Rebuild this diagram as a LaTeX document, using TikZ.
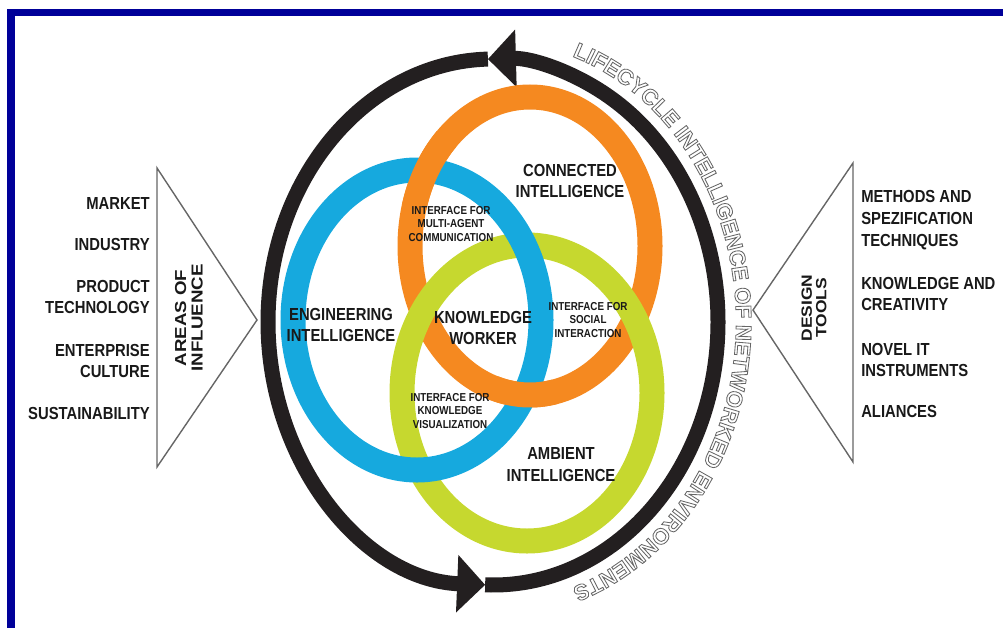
\documentclass[tikz,border=0pt]{standalone}
\usepackage{fontspec}
\setmainfont{Liberation Sans}
\usetikzlibrary{arrows.meta}
\usetikzlibrary{decorations.text}

\definecolor{ringblue}{RGB}{22,169,222}
\definecolor{ringorange}{RGB}{245,137,32}
\definecolor{ringgreen}{RGB}{198,216,47}
\definecolor{cyclegray}{RGB}{35,31,32}
\definecolor{framenavy}{RGB}{0,0,153}

\newcommand{\bigfont}{\fontsize{12.4}{15.6}\selectfont\bfseries}
\newcommand{\smallfont}{\fontsize{8.2}{9.9}\selectfont\bfseries}
% hollow letters: stroke only, no fill
\newcommand{\ringchar}[1]{{\fontsize{15.7}{15.7}\selectfont\bfseries\color{black!60}%
  \special{pdf:literal direct 1 Tr 0.6 w}#1\special{pdf:literal direct 0 Tr}}}

\tikzset{
  ring/.style={line width=6.25mm},
  lbl/.style={font=\bigfont, align=center, xscale=.85, inner sep=0pt, text=black!90},
  iface/.style={font=\smallfont, align=center, xscale=.85, text=black!90},
  side/.style={align=center, rotate=90, yscale=.85, text=black!90},
  wedge/.style={draw=black!60, line width=.35mm},
}

\begin{document}
\begin{tikzpicture}[x=0.25mm, y=-0.25mm]
    \useasboundingbox (0,0) rectangle (1003,628);

    % frame (only top and left edges)
    \fill[framenavy] (7,9) rectangle (1003,16);
    \fill[framenavy] (7,9) rectangle (15,628);

    % lifecycle ring, two halves each ending in a head
    \draw[cyclegray, line width=3.75mm, -{Triangle[length=7mm, width=14mm]}]
        (493,322) ++(92:225 and 263) arc[start angle=92, end angle=-91.3, x radius=225, y radius=263];
    \draw[cyclegray, line width=3.75mm, -{Triangle[length=7mm, width=14mm]}]
        (493,322) ++(268.7:225 and 263) arc[start angle=268.7, end angle=92, x radius=225, y radius=263];

    \path[decorate, decoration={text effects along path,
        text={LIFECYCLE INTELLIGENCE OF NETWORKED ENVIRONMENTS},
        text effects/.cd, text along path, character command=\ringchar}]
        (493,322) ++(-71:243 and 281) arc[start angle=-71, end angle=85, x radius=243, y radius=281];

    % the three rings
    \draw[ringorange, ring] (530,246) ellipse [x radius=120, y radius=149];
    \draw[ringgreen, ring] (527,393) ellipse [x radius=125, y radius=148];
    \draw[ringblue, ring] (417,320) ellipse [x radius=124, y radius=150];
    % orange goes over blue at both crossings
    \draw[ringorange, ring] (530,246) ++(195:120 and 149) arc[start angle=195, end angle=226, x radius=120, y radius=149];
    \draw[ringorange, ring] (530,246) ++(78:120 and 149) arc[start angle=78, end angle=108, x radius=120, y radius=149];

    \node[lbl] (connected) at (570,181) {CONNECTED\\INTELLIGENCE};
    \node[lbl] (engineering) at (341,325) {ENGINEERING\\INTELLIGENCE};
    \node[lbl] (worker) at (483,328) {KNOWLEDGE\\WORKER};
    \node[lbl] (ambient) at (561,465) {AMBIENT\\INTELLIGENCE};
    \node[iface] (multiagent) at (451,224) {INTERFACE FOR\\MULTI-AGENT\\COMMUNICATION};
    \node[iface] (social) at (588,320) {INTERFACE FOR\\SOCIAL\\INTERACTION};
    \node[iface] (visual) at (450,411) {INTERFACE FOR\\KNOWLEDGE\\VISUALIZATION};

    % areas of influence
    \draw[wedge] (157,168) -- (257,320) -- (157,467) -- cycle;
    \node[side, font=\fontsize{13.3}{13.8}\selectfont\bfseries] (areas) at (189,318) {AREAS OF\\INFLUENCE};
    \node[lbl, anchor=east, align=right] (market) at (150,203) {MARKET};
    \node[lbl, anchor=east, align=right] (industry) at (150,244) {INDUSTRY};
    \node[lbl, anchor=east, align=right] (prodtech) at (150,297) {PRODUCT\\TECHNOLOGY};
    \node[lbl, anchor=east, align=right] (culture) at (150,361) {ENTERPRISE\\CULTURE};
    \node[lbl, anchor=east, align=right] (sustain) at (150,413) {SUSTAINABILITY};

    % design tools
    \draw[wedge] (853,163) -- (753,310) -- (853,462) -- cycle;
    \node[side, font=\fontsize{12.4}{12.1}\selectfont\bfseries] (tools) at (814,308) {DESIGN\\TOOLS};
    \node[lbl, anchor=west, align=left] (methods) at (861,220) {METHODS AND\\SPEZIFICATION\\TECHNIQUES};
    \node[lbl, anchor=west, align=left] (creativity) at (861,294) {KNOWLEDGE AND\\CREATIVITY};
    \node[lbl, anchor=west, align=left] (instruments) at (861,360) {NOVEL IT\\INSTRUMENTS};
    \node[lbl, anchor=west, align=left] (aliances) at (861,411) {ALIANCES};
\end{tikzpicture}
\end{document}
